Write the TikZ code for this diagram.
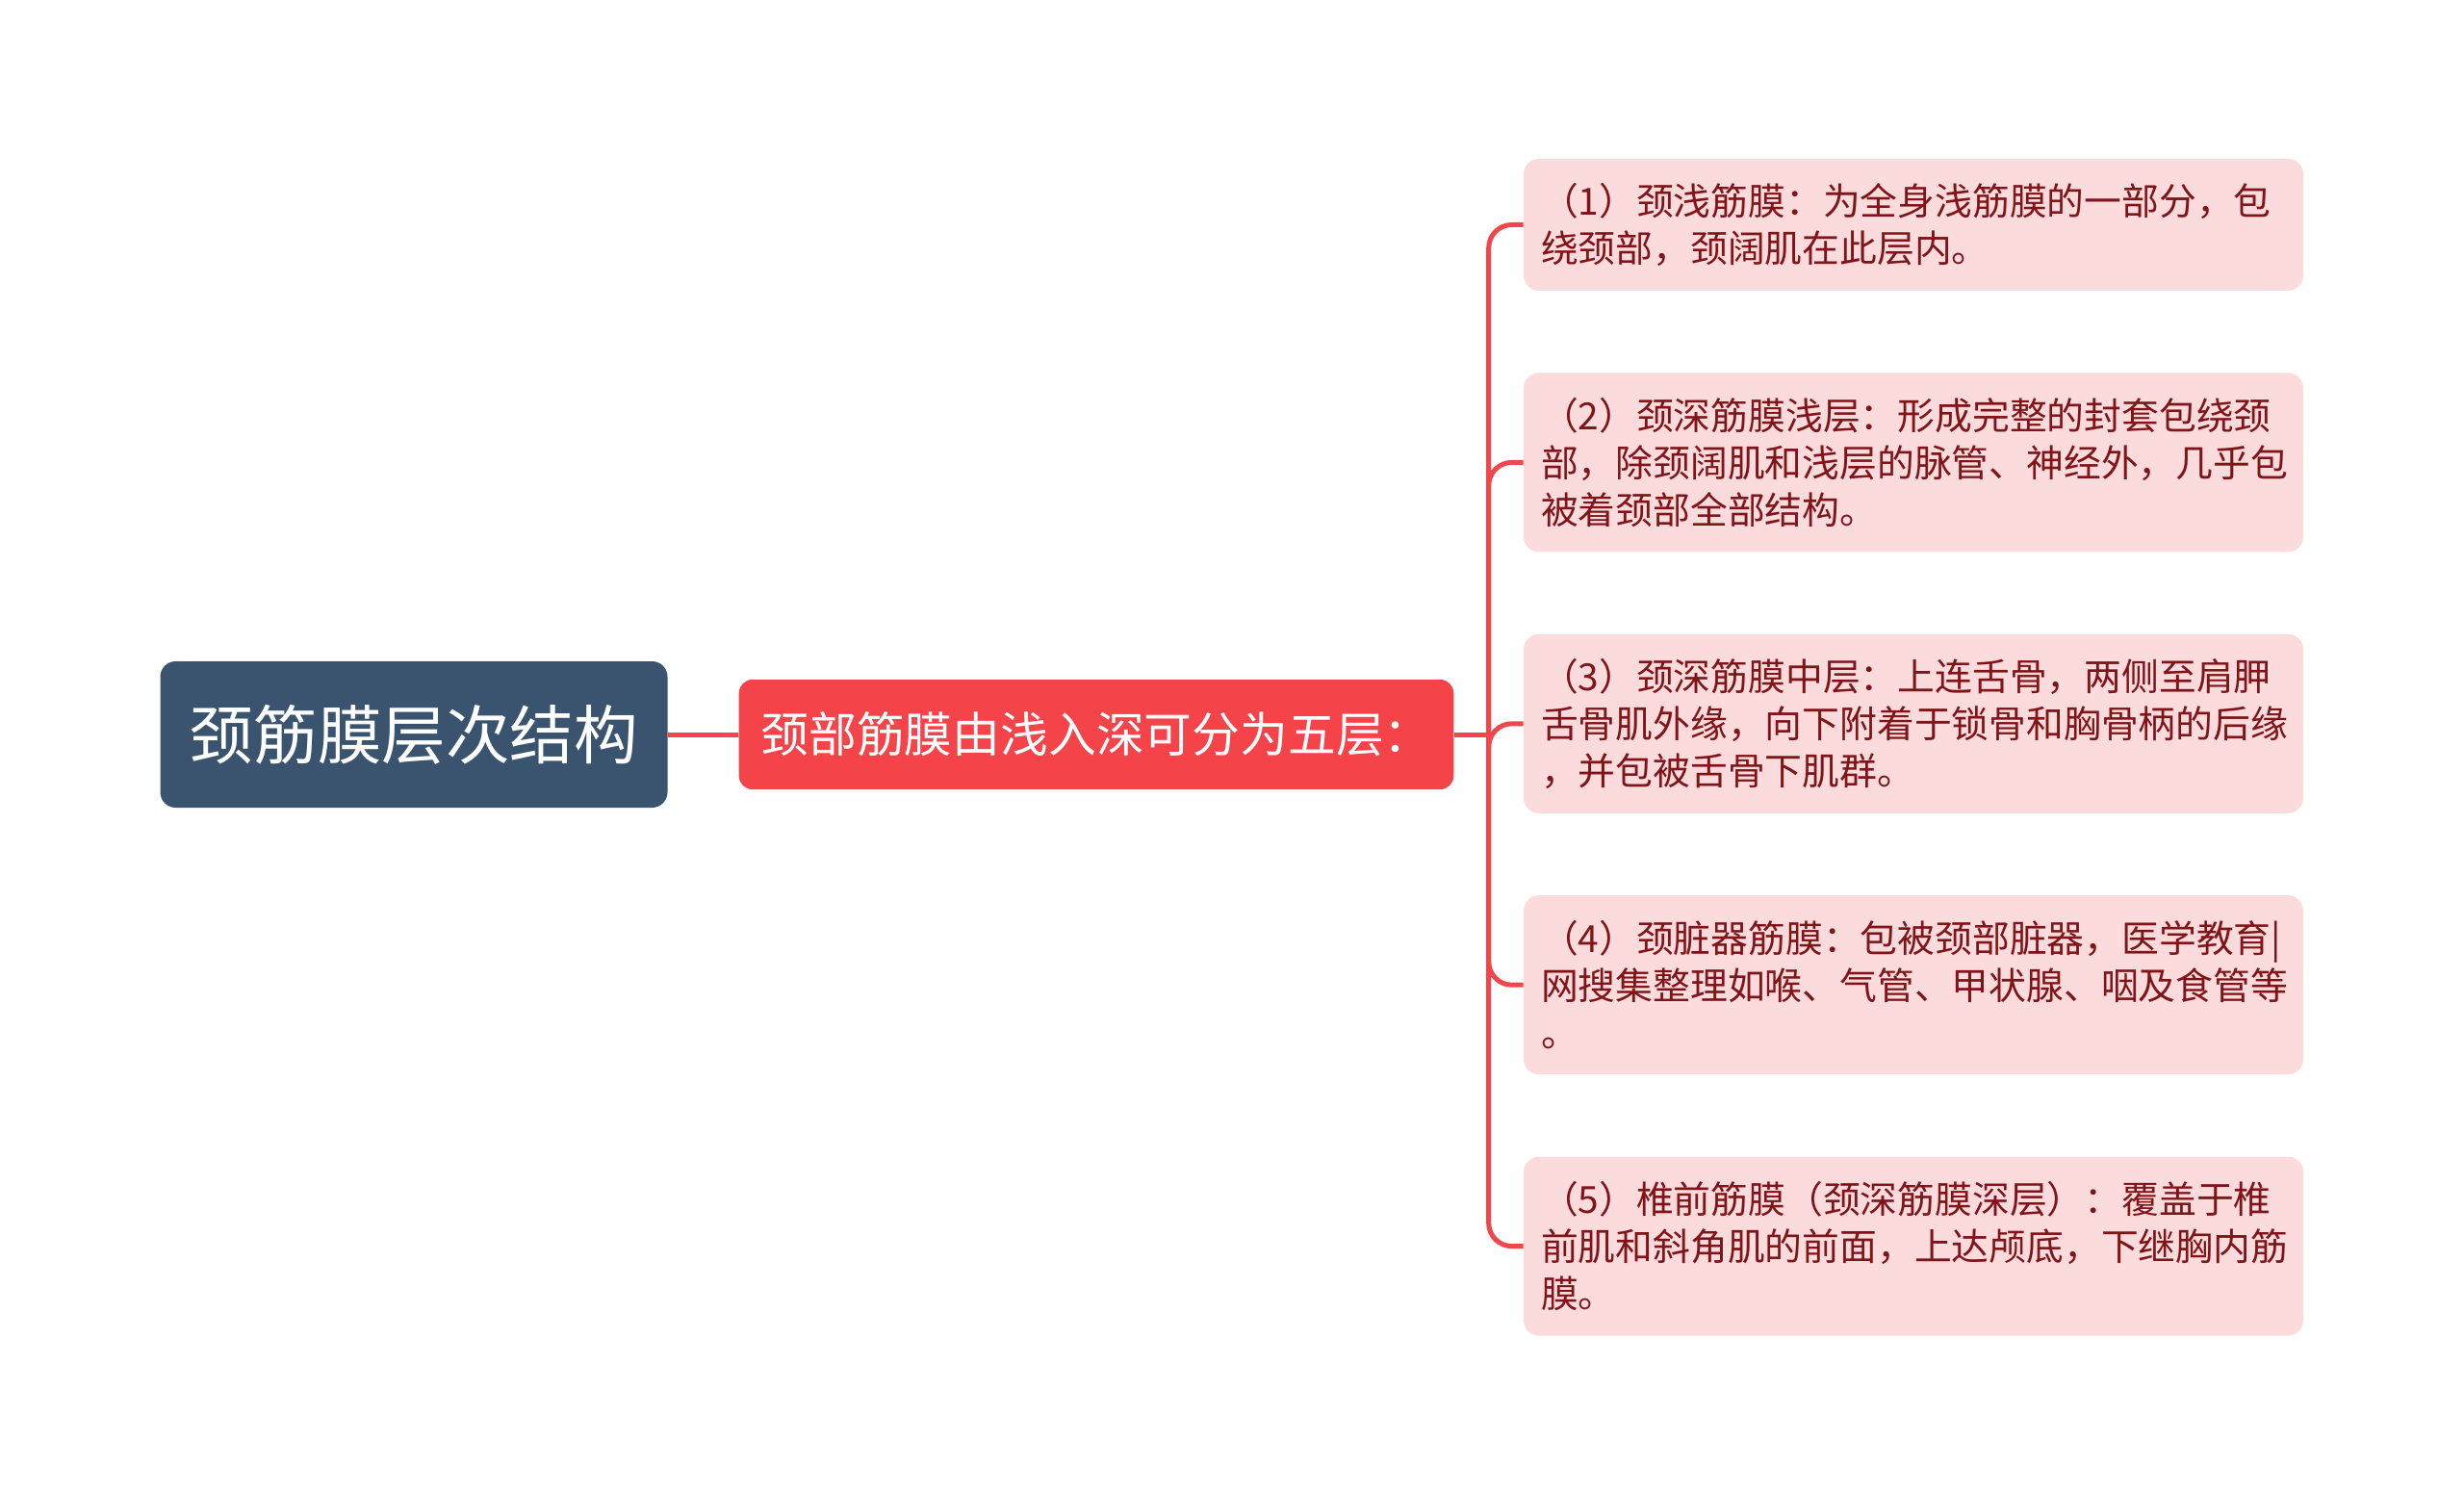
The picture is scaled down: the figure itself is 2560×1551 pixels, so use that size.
\documentclass[tikz,border=0pt]{standalone}
\usepackage{fontspec}
\newfontfamily\cjk{Noto Sans CJK SC}
\usepackage{tikz}
\usetikzlibrary{positioning,calc}
\definecolor{rootblue}{RGB}{58,84,112}
\definecolor{topicred}{RGB}{245,67,74}
\definecolor{leafpink}{RGB}{252,219,220}
\definecolor{leaftext}{RGB}{128,20,24}
\definecolor{linkred}{RGB}{240,70,76}

\begin{document}
\begin{tikzpicture}[
    x=0.5pt, y=-0.5pt,
    rootbox/.style={rectangle, fill=rootblue, text=white, rounded corners=8pt, minimum width=263.5pt, minimum height=76pt, font=\cjk\fontsize{33.3}{40}\selectfont},
    topicbox/.style={rectangle, fill=topicred, text=white, rounded corners=7pt, minimum width=371.3pt, minimum height=57pt, font=\cjk\fontsize{24.9}{30}\selectfont},
    leafbox/.style={rectangle, fill=leafpink, text=leaftext, rounded corners=8pt, text width=387pt, inner xsep=9pt, inner ysep=0pt, align=left, font=\cjk\fontsize{19.4}{24.5}\selectfont},
    link/.style={draw=linkred, line width=2.5pt}
]
    \useasboundingbox (0,0) rectangle (2560,1551);

    % root and main topic
    \node[rootbox] (root) at (430,763) {颈筋膜层次结构};
    \node[topicbox, right=36.7pt of root] (topic) {颈部筋膜由浅入深可分为五层：};

    % the five layers
    \node[leafbox, minimum height=68.5pt] (l1) at (1988,233.5) {（1）颈浅筋膜：为全身浅筋膜的一部分，包\\绕颈部，颈阔肌在此层内。};
    \node[leafbox, minimum height=93pt, below=42.3pt of l1] (l2) {（2）颈深筋膜浅层：形成完整的封套包绕颈\\部，除颈阔肌和浅层的脉管、神经外，几乎包\\被着颈部全部结构。};
    \node[leafbox, minimum height=93pt, below=42.3pt of l2] (l3) {（3）颈深筋膜中层：上连舌骨，两侧至肩胛\\舌骨肌外缘，向下附着于锁骨和胸骨柄的后缘\\，并包被舌骨下肌群。};
    \node[leafbox, minimum height=93pt, below=42.3pt of l3] (l4) {（4）颈脏器筋膜：包被颈部脏器，医学教育|\\网搜集整理如喉、气管、甲状腺、咽及食管等\\。};
    \node[leafbox, minimum height=93pt, below=42.3pt of l4] (l5) {（5）椎前筋膜（颈深筋膜深层）：覆盖于椎\\前肌和斜角肌的前面，上达颅底，下继胸内筋\\膜。};

    % connectors
    \draw[link] (root.east) -- (topic.west);
    \coordinate (bus) at ([xshift=18pt]topic.east);
    \draw[link] (topic.east) -- (bus);
    \foreach \i in {1,...,5}
        \draw[link, rounded corners=12pt] (bus) |- (l\i.west);
\end{tikzpicture}
\end{document}
